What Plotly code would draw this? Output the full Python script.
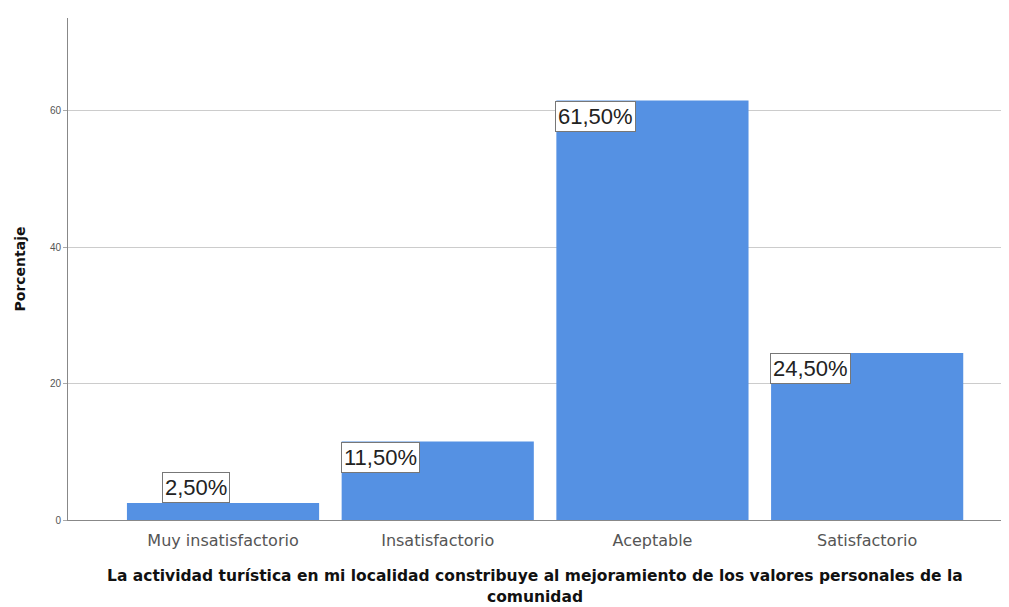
import plotly.graph_objects as go

categories = ["Muy insatisfactorio", "Insatisfactorio", "Aceptable", "Satisfactorio"]
values = [2.5, 11.5, 61.5, 24.5]
labels = ["2,50%", "11,50%", "61,50%", "24,50%"]
y_ticks = [0, 20, 40, 60]
x_title_lines = ["La actividad turística en mi localidad constribuye al mejoramiento de los valores personales de la",
                 "comunidad"]

fig = go.Figure(go.Bar(x=categories, y=values, marker=dict(color="#5591E3", line=dict(width=0)),
                       width=0.895))

annotations = []
for c, v, t in zip(categories, values, labels):
    small = v < 5
    annotations.append(dict(
        x=c, y=v, xref="x", yref="y", text=t, showarrow=False,
        xanchor="left", yanchor="bottom" if small else "top",
        xshift=-61 if small else -97, yshift=0,
        font=dict(family="Liberation Sans, Arial", size=22, color="#222222"),
        bgcolor="white", bordercolor="#777777", borderwidth=1, borderpad=2,
    ))

# X-axis title as two lines
for i, line in enumerate(x_title_lines):
    annotations.append(dict(
        x=0.5, xref="paper", y=0, yref="paper", yanchor="middle", xanchor="center",
        yshift=-56 - 21 * i, text="<b>" + line + "</b>", showarrow=False,
        font=dict(family="DejaVu Sans", size=15.5, color="#111111"),
    ))

# The page body has an 8px default margin; compensate in the layout
fig.update_layout(
    width=1001, height=599,
    margin=dict(l=60, r=7, t=10, b=87),
    plot_bgcolor="white", paper_bgcolor="white",
    showlegend=False,
    annotations=annotations,
    font=dict(family="Liberation Sans, Arial", color="#555555"),
    xaxis=dict(
        range=[-0.722, 3.628], showgrid=False, showline=True, linecolor="#888888", linewidth=1,
        tickfont=dict(size=16, color="#555555", family="DejaVu Sans"), ticks="",
        ticklabelstandoff=6,
    ),
    yaxis=dict(
        range=[0, 73.6], tickvals=y_ticks, ticktext=[str(t) for t in y_ticks],
        showgrid=True, gridcolor="#cccccc", gridwidth=1, zeroline=False,
        showline=True, linecolor="#888888", linewidth=1,
        ticks="outside", ticklen=4, tickcolor="#aaaaaa",
        tickfont=dict(size=10, color="#555555"),
        title=dict(text="<b>Porcentaje</b>", font=dict(size=14, color="#111111", family="DejaVu Sans"),
                   standoff=20),
    ),
)

fig.write_html("out.html")
